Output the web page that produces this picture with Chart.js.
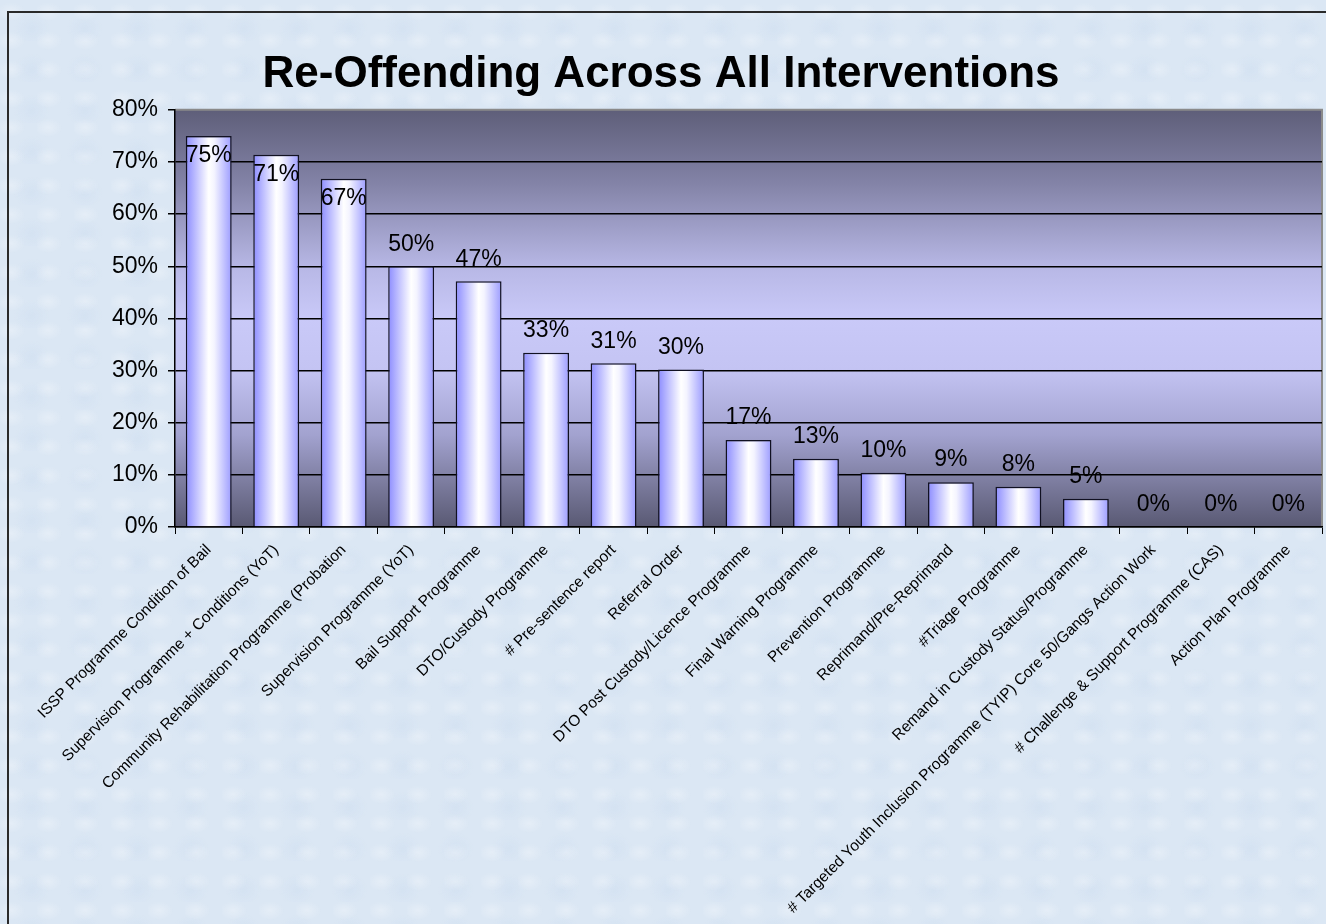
<!DOCTYPE html>
<html>
  <head>
    <meta charset="utf-8" />
    <script src="https://cdn.jsdelivr.net/npm/chart.js"></script>
    <title>Re-Offending Across All Interventions</title>
    <style>
      html, body { margin: 0; padding: 0; overflow: hidden; }
      body {
        width: 1326px; height: 924px;
        background-color: #dbe7f4;
        background-image:
          radial-gradient(ellipse at 30% 40%, rgba(255,255,255,0.28) 0, rgba(255,255,255,0) 14px),
          radial-gradient(ellipse at 60% 70%, rgba(190,210,235,0.22) 0, rgba(190,210,235,0) 18px);
        background-size: 37px 29px, 53px 41px;
      }
      #frame {
        position: absolute; left: 7px; top: 11px;
        width: 1330px; height: 930px;
        border: 2px solid #2a2a2a; pointer-events: none;
      }
      #wrap { position: absolute; left: 0; top: 0; width: 1326px; height: 924px; }
    </style>
  </head>
  <body>
    <div id="wrap"><canvas id="chart"></canvas></div>
    <div id="frame"></div>

    <script>
      // categories / values
      var categories = [
        "ISSP Programme Condition of Bail",
        "Supervision Programme + Conditions (YoT)",
        "Community Rehabilitation Programme (Probation",
        "Supervision Programme (YoT)",
        "Bail Support Programme",
        "DTO/Custody Programme",
        "# Pre-sentence report",
        "Referral Order",
        "DTO Post Custody/Licence Programme",
        "Final Warning Programme",
        "Prevention Programme",
        "Reprimand/Pre-Reprimand",
        "#Triage Programme",
        "Remand in Custody Status/Programme",
        "# Targeted Youth Inclusion Programme (TYIP) Core 50/Gangs Action Work",
        "# Challenge & Support Programme (CAS)",
        "Action Plan Programme"
      ];
      var reoffendPct = [75, 71.4, 66.8, 50, 47.1, 33.4, 31.4, 30.2, 16.7, 13.1, 10.4, 8.6, 7.7, 5.4, 0, 0, 0];
      var yTicks = [0, 10, 20, 30, 40, 50, 60, 70, 80];

      var FONT = "'Liberation Sans', Arial, sans-serif";
      var BAR_PCT = 0.68;

      // plot background gradient + grey border
      var plotBg = {
        id: "plotBg",
        beforeDraw: function (chart) {
          var a = chart.chartArea, ctx = chart.ctx;
          var g = ctx.createLinearGradient(0, a.top, 0, a.bottom);
          g.addColorStop(0, "#5e5e79");
          g.addColorStop(0.18, "#8484a8");
          g.addColorStop(0.38, "#b8b8e6");
          g.addColorStop(0.5, "#c9c9f8");
          g.addColorStop(0.62, "#c4c4f3");
          g.addColorStop(0.78, "#a2a2cf");
          g.addColorStop(0.9, "#7a7a9c");
          g.addColorStop(1, "#595973");
          ctx.save();
          ctx.fillStyle = g;
          ctx.fillRect(a.left, a.top, a.right - a.left, a.bottom - a.top);
          ctx.strokeStyle = "#8a8a8a";
          ctx.lineWidth = 2;
          ctx.beginPath();
          ctx.moveTo(a.left, a.top);
          ctx.lineTo(a.right, a.top);
          ctx.lineTo(a.right, a.bottom);
          ctx.stroke();
          ctx.restore();
        }
      };

      // value labels
      var valueLabels = {
        id: "valueLabels",
        afterDatasetsDraw: function (chart) {
          var ctx = chart.ctx;
          var meta = chart.getDatasetMeta(0);
          ctx.save();
          ctx.font = "23px " + FONT;
          ctx.fillStyle = "#000";
          ctx.textAlign = "center";
          ctx.textBaseline = "middle";
          meta.data.forEach(function (bar, i) {
            var v = reoffendPct[i];
            var y = v > 60 ? bar.y + 20 : bar.y - 22;
            ctx.fillText(Math.round(v) + "%", bar.x, y);
          });
          ctx.restore();
        }
      };

      function barGradient(context) {
        var chart = context.chart;
        var xs = chart.scales.x;
        if (!chart.chartArea || !xs) return "#c0c0ff";
        var cw = (xs.right - xs.left) / categories.length;
        var w = cw * BAR_PCT;
        var cx = xs.getPixelForValue(context.dataIndex);
        var g = chart.ctx.createLinearGradient(cx - w / 2, 0, cx + w / 2, 0);
        g.addColorStop(0, "#8c8cff");
        g.addColorStop(0.5, "#ffffff");
        g.addColorStop(0.62, "#f4f4ff");
        g.addColorStop(1, "#9c9cff");
        return g;
      }

      new Chart(document.getElementById("chart"), {
        type: "bar",
        data: {
          labels: categories,
          datasets: [
            {
              data: reoffendPct,
              backgroundColor: barGradient,
              borderColor: "#111122",
              borderWidth: 1.5,
              borderSkipped: "bottom",
              barPercentage: BAR_PCT,
              categoryPercentage: 1
            }
          ]
        },
        options: {
          responsive: true,
          maintainAspectRatio: false,
          animation: false,
          layout: { padding: { top: 0, right: 4, left: 0, bottom: 0 } },
          plugins: {
            legend: { display: false },
            tooltip: { enabled: false },
            title: {
              display: true,
              text: "Re-Offending Across All Interventions",
              color: "#000",
              font: { family: FONT, size: 44, weight: "bold" },
              padding: { top: 48, bottom: 9 }
            }
          },
          scales: {
            x: {
              afterFit: function (scale) { scale.height = 397; },
              border: { color: "#000", width: 1.5 },
              grid: { drawOnChartArea: false, drawTicks: true, tickLength: 7, color: "#000", offset: true },
              ticks: {
                autoSkip: false,
                minRotation: 45,
                maxRotation: 45,
                padding: 7,
                color: "#000",
                font: { family: FONT, size: 15.5 }
              }
            },
            y: {
              min: 0,
              max: 80,
              afterFit: function (scale) { scale.width = 175; },
              afterBuildTicks: function (scale) {
                scale.ticks = yTicks.map(function (v) { return { value: v }; });
              },
              border: { color: "#000", width: 1.5 },
              grid: {
                color: function (c) { return c.tick && c.tick.value === 80 ? "rgba(0,0,0,0)" : "#000"; },
                lineWidth: 1.5,
                tickLength: 7,
                tickColor: "#000"
              },
              ticks: {
                padding: 10,
                color: "#000",
                font: { family: FONT, size: 23 },
                callback: function (v) { return v + "%"; }
              }
            }
          }
        },
        plugins: [plotBg, valueLabels]
      });
    </script>
  </body>
</html>
